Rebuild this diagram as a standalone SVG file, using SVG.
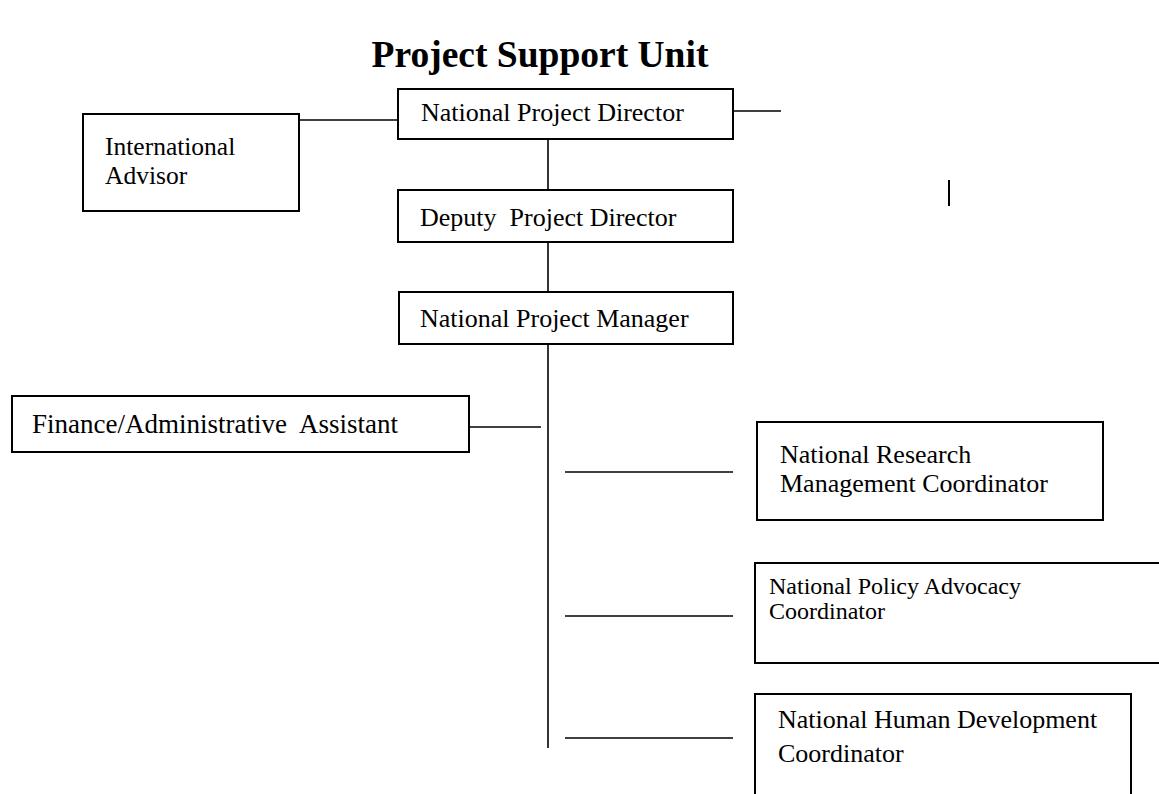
<svg xmlns="http://www.w3.org/2000/svg" width="1159" height="794" viewBox="0 0 1159 794">
<style>
.box{fill:#fff;stroke:#000;stroke-width:2}
.t{font-family:"Liberation Serif","Times New Roman",serif;font-size:26px;fill:#000;white-space:pre}
.s{font-size:24px}
.ttl{font-family:"Liberation Serif","Times New Roman",serif;font-size:37.5px;font-weight:bold;fill:#000}
.c{stroke:#000;stroke-width:1.6;fill:none}
</style>
<rect width="1159" height="794" fill="#fff"/>
<text class="ttl" x="540" y="67" text-anchor="middle">Project Support Unit</text>
<g id="connectors">
<line class="c" x1="299" y1="120" x2="398" y2="120"/>
<line class="c" x1="734" y1="111" x2="781" y2="111"/>
<line x1="949" y1="180" x2="949" y2="206" stroke="#000" stroke-width="2"/>
<line class="c" x1="548" y1="139" x2="548" y2="190"/>
<line class="c" x1="548" y1="242" x2="548" y2="292"/>
<line class="c" x1="548" y1="344" x2="548" y2="748"/>
<line class="c" x1="421" y1="427" x2="541" y2="427"/>
<line class="c" x1="565" y1="472" x2="733" y2="472"/>
<line class="c" x1="565" y1="616" x2="733" y2="616"/>
<line class="c" x1="565" y1="738" x2="733" y2="738"/>
</g>
<g id="npd">
<rect class="box" x="398" y="89" width="335" height="50"/>
<text class="t" x="421" y="121">National Project Director</text>
</g>
<g id="intl">
<rect class="box" x="83" y="114" width="216" height="97"/>
<text class="t" x="105" y="155" style="font-size:25.5px">International</text>
<text class="t" x="105" y="184" style="font-size:25.5px">Advisor</text>
</g>
<g id="deputy">
<rect class="box" x="398" y="190" width="335" height="52"/>
<text class="t" x="420" y="226">Deputy  Project Director</text>
</g>
<g id="npm">
<rect class="box" x="399" y="292" width="334" height="52"/>
<text class="t" x="420" y="327">National Project Manager</text>
</g>
<g id="finance">
<rect class="box" x="12" y="396" width="457" height="56"/>
<text class="t" x="32" y="433" style="font-size:27px">Finance/Administrative  Assistant</text>
</g>
<g id="research">
<rect class="box" x="757" y="422" width="346" height="98"/>
<text class="t" x="780" y="463">National Research</text>
<text class="t" x="780" y="492">Management Coordinator</text>
</g>
<g id="policy">
<rect class="box" x="755" y="563" width="420" height="100"/>
<text class="t s" x="769" y="594">National Policy Advocacy</text>
<text class="t s" x="769" y="619">Coordinator</text>
</g>
<g id="human">
<rect class="box" x="755" y="694" width="376" height="120"/>
<text class="t" x="778" y="728">National Human Development</text>
<text class="t" x="778" y="762">Coordinator</text>
</g>
</svg>
